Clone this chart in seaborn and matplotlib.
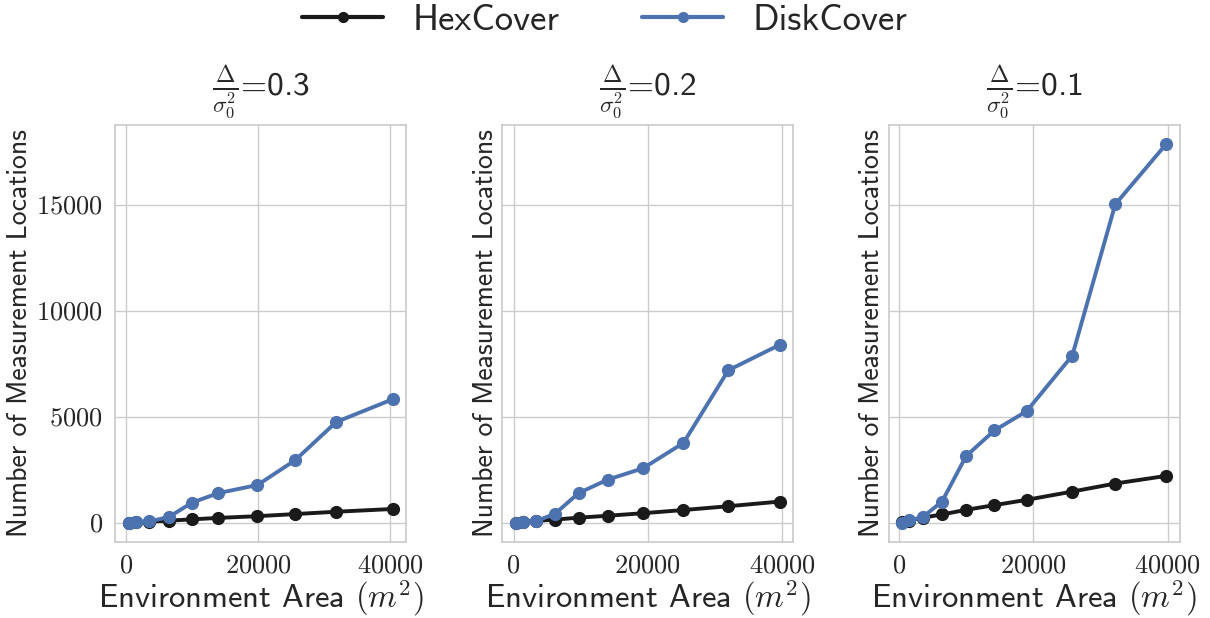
import matplotlib
matplotlib.use("Agg")
import matplotlib.pyplot as plt
import seaborn as sns
import numpy as np
from matplotlib.ticker import MultipleLocator, FuncFormatter
from matplotlib.lines import Line2D

# ---- data ----
deltas = ["0.3", "0.2", "0.1"]
area_p1 = [400, 1600, 3500, 6500, 10000, 14000, 19900, 25600, 31800, 40400]
area_p2 = [300, 1400, 3400, 6200, 9700, 14000, 19300, 25300, 32000, 39700]
area_p3 = [400, 1500, 3500, 6400, 10000, 14200, 19000, 25800, 32200, 39800]
hex_p1 = [5, 25, 55, 100, 160, 230, 310, 410, 520, 650]
hex_p2 = [10, 40, 90, 150, 240, 330, 450, 600, 780, 1000]
hex_p3 = [20, 100, 240, 390, 610, 830, 1080, 1470, 1850, 2210]
disk_p1 = [10, 30, 60, 270, 950, 1400, 1780, 2950, 4750, 5830]
disk_p2 = [10, 40, 80, 430, 1400, 2030, 2570, 3760, 7190, 8400]
disk_p3 = [0, 110, 260, 1000, 3150, 4350, 5260, 7880, 15010, 17860]
series_names = ["HexCover", "DiskCover"]
colors = ["#1a1a1a", "#4c72b0"]

areas = [area_p1, area_p2, area_p3]
hexs = [hex_p1, hex_p2, hex_p3]
disks = [disk_p1, disk_p2, disk_p3]

sns.set_theme(style="whitegrid")
plt.rcParams["mathtext.fontset"] = "cm"
plt.rcParams["axes.edgecolor"] = "#cccccc"
plt.rcParams["font.family"] = ["cmss10", "DejaVu Sans"]
plt.rcParams["axes.unicode_minus"] = False

fig = plt.figure(figsize=(12.10, 6.18), dpi=100)
W, H = 1210, 618
lefts = [115.3, 502.3, 888.5]
axw = 291
top, bottom = 125, 541.7
axes = []
for i in range(3):
    ax = fig.add_axes([lefts[i] / W, 1 - bottom / H, axw / W, (bottom - top) / H],
                      sharey=axes[0] if axes else None)
    axes.append(ax)

fmt = FuncFormatter(lambda v, p: r"$%d$" % int(round(v)))
for i, ax in enumerate(axes):
    for name, vals, c in zip(series_names, [hexs[i], disks[i]], colors):
        sns.lineplot(x=areas[i], y=vals, ax=ax, color=c, marker="o", lw=2.8,
                     markersize=9.5, markeredgewidth=0, label=name, legend=False)
    ax.xaxis.set_major_locator(MultipleLocator(20000))
    ax.yaxis.set_major_locator(MultipleLocator(5000))
    ax.xaxis.set_major_formatter(fmt)
    ax.yaxis.set_major_formatter(fmt)
    ax.tick_params(labelsize=19, colors="#262626", pad=3)
    ax.set_xlabel(r"Environment Area $(m^2)$", fontsize=23.5, color="#262626", labelpad=1)
    ax.set_ylabel("Number of Measurement Locations", fontsize=20, color="#262626", labelpad=3)
    ax.set_title(r"$\frac{\Delta}{\sigma_0^2}$=" + deltas[i], fontsize=24, color="#262626", pad=21)
    for s in ax.spines.values():
        s.set_color("#cccccc")
    if i > 0:
        ax.tick_params(labelleft=False)

handles = [Line2D([], [], color=c, lw=3, marker="o", markersize=7) for c in colors]
fig.legend(handles, series_names, loc="center", bbox_to_anchor=(0.5, 1 - 20 / H), ncol=2,
           frameon=False, fontsize=26.5, handlelength=2.2, columnspacing=2.25,
           handletextpad=0.8, labelcolor="#262626")

fig.savefig("out.png", dpi=100)
